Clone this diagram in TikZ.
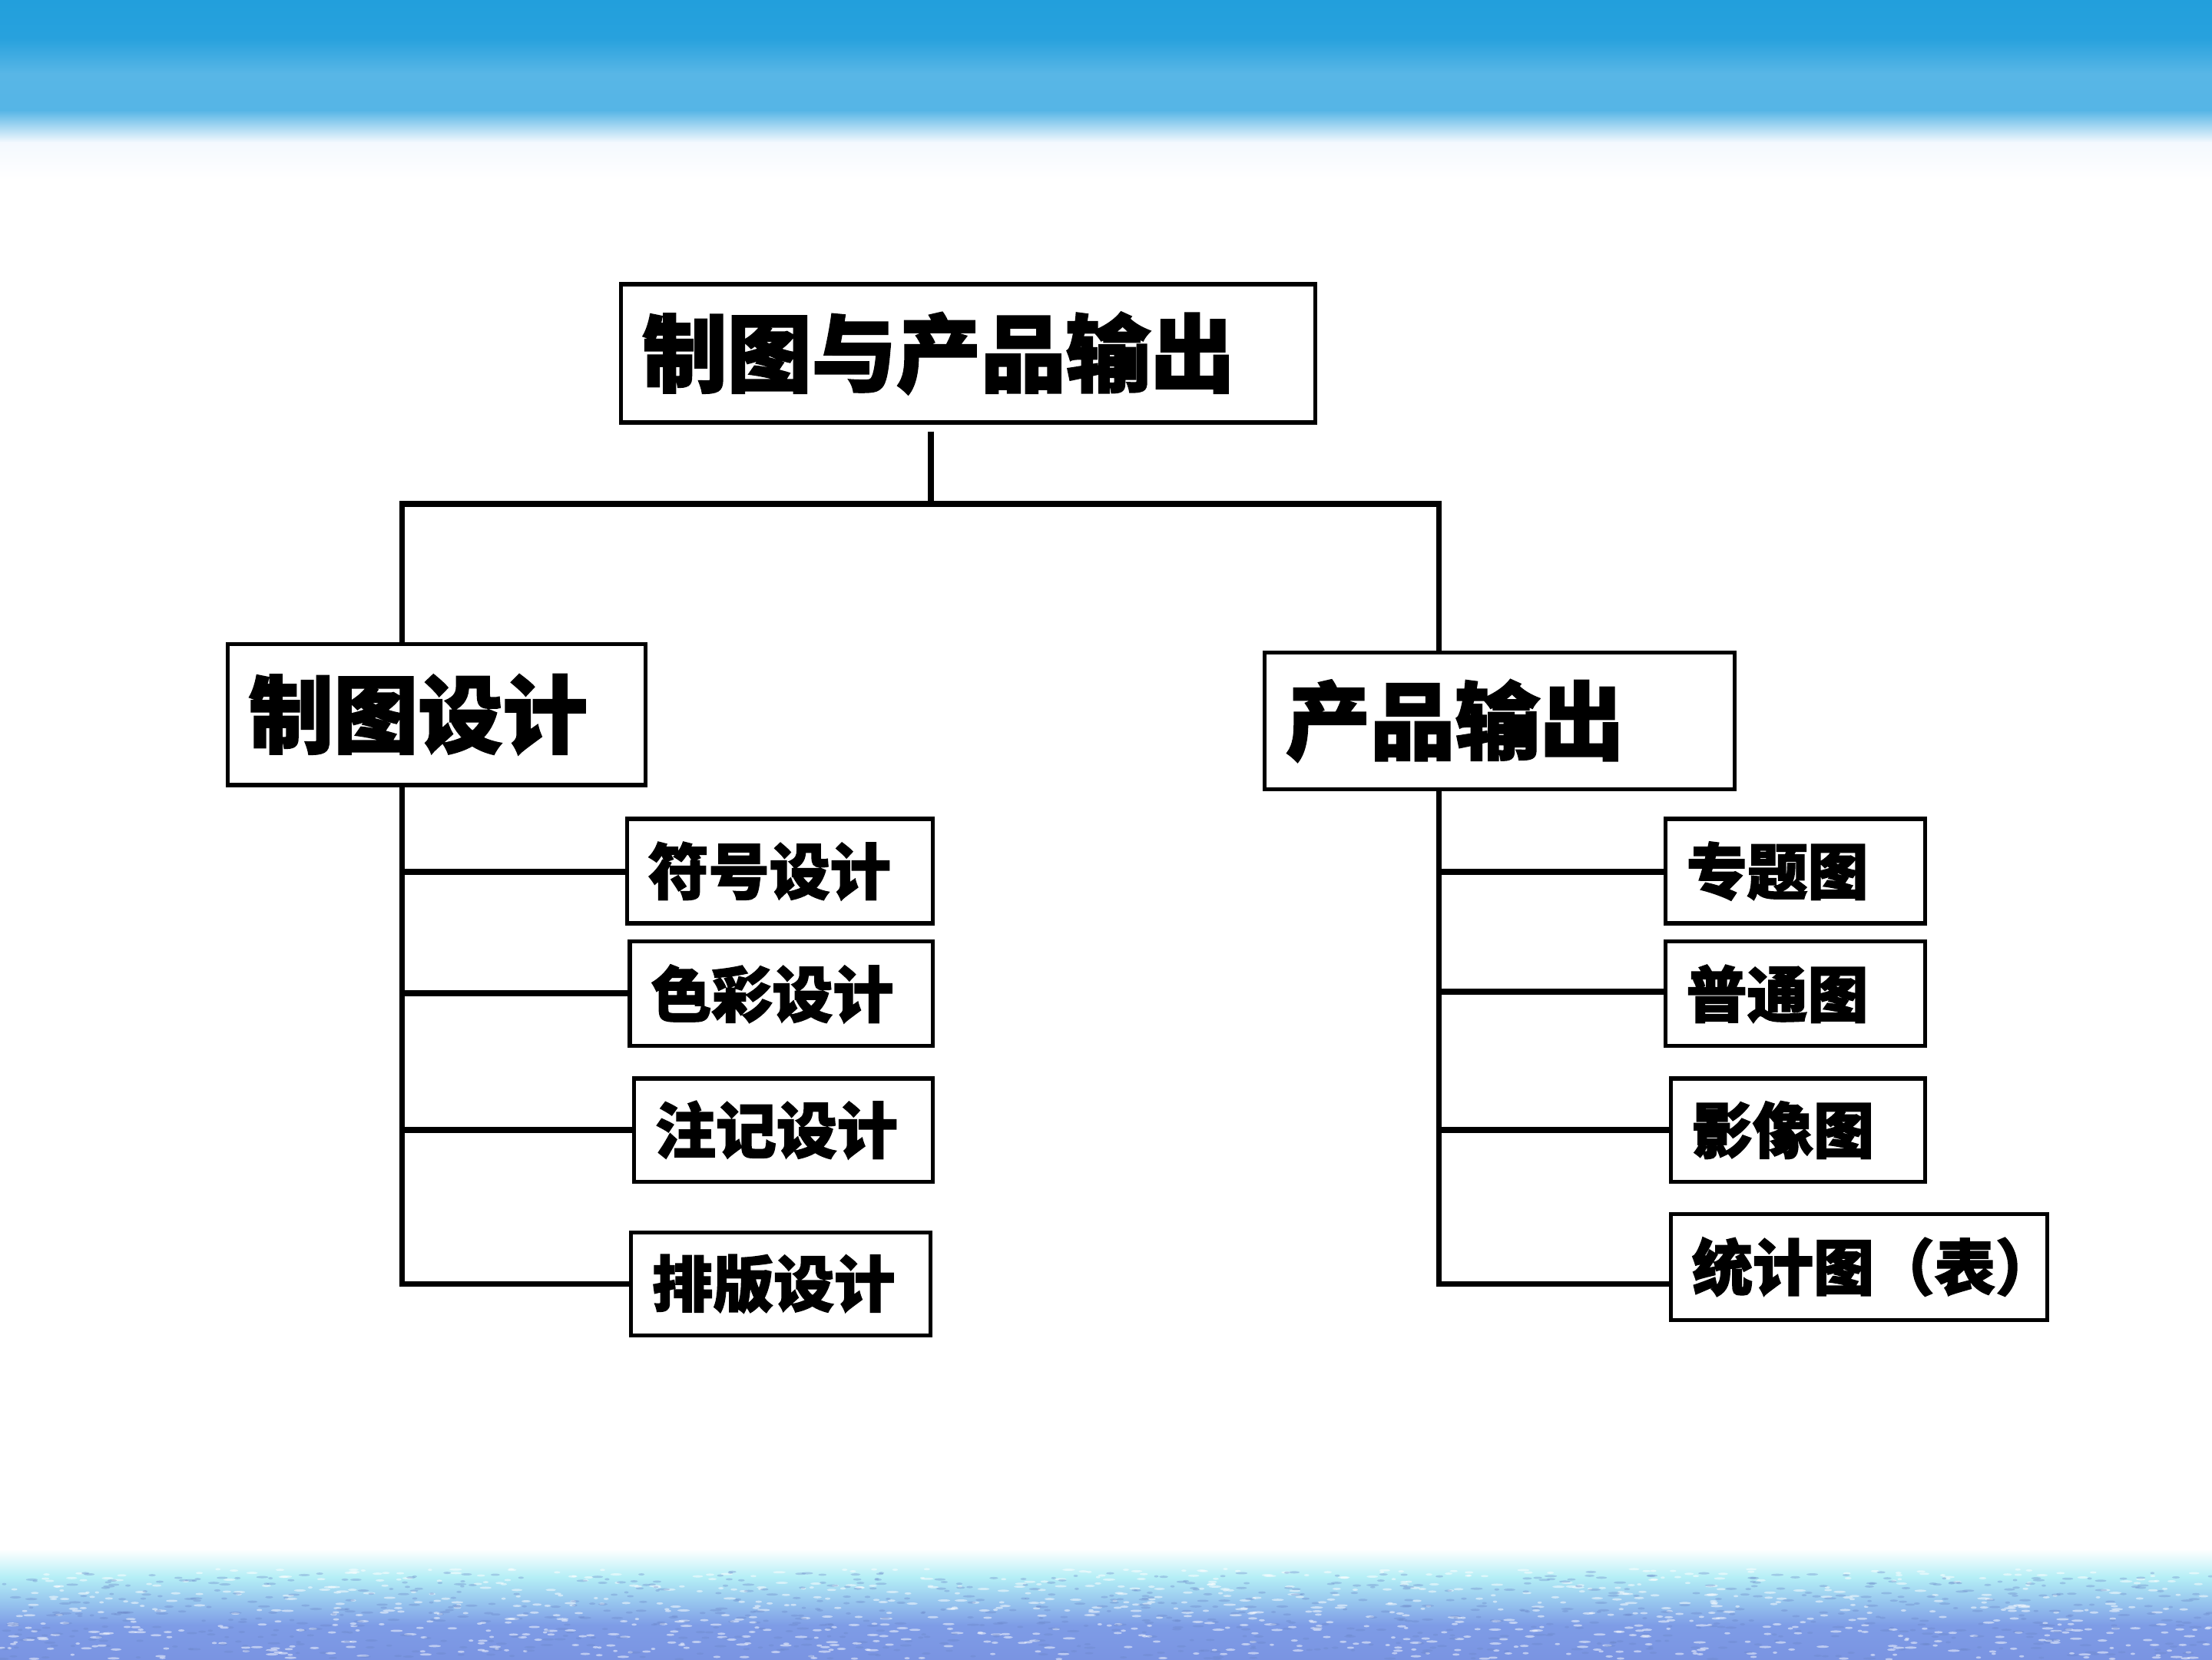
\documentclass[tikz,border=0pt]{standalone}
\usepackage{fontspec}
\newfontfamily\cjk[BoldFeatures={FakeBold=2}]{Noto Sans CJK SC}
\definecolor{bandA}{HTML}{229FDC}
\definecolor{bandB}{HTML}{58B6E6}
\definecolor{bandC}{HTML}{F4F9FE}
\definecolor{seaA}{HTML}{B4EEF6}
\definecolor{seaB}{HTML}{96C4EE}
\definecolor{seaC}{HTML}{7E9CE6}
\definecolor{seaD}{HTML}{7A94E2}
\definecolor{seaDark}{HTML}{6A86C8}
\begin{document}
\begin{tikzpicture}[x=1pt,y=-1pt,
  box/.style={draw=black, line width=2.8pt, fill=white, anchor=north west,
    inner xsep=15pt, inner ysep=0pt, align=left},
  big/.style={font=\cjk\bfseries\fontsize{60}{60}\selectfont},
  small/.style={font=\cjk\bfseries\fontsize{43}{43}\selectfont},
  conn/.style={line width=4.2pt, line join=miter}]
\useasboundingbox (0,0) rectangle (1568,1176);
\fill[white] (0,0) rectangle (1568,1176);
% top band
\shade[top color=bandA, bottom color=bandA!90!bandB] (0,0) rectangle (1568,27);
\shade[top color=bandA!90!bandB, bottom color=bandB] (0,27) rectangle (1568,52);
\shade[top color=bandB, bottom color=bandB!95!bandA] (0,52) rectangle (1568,78);
\shade[top color=bandB!95!bandA, bottom color=bandC] (0,78) rectangle (1568,101);
\shade[top color=bandC, bottom color=white] (0,101) rectangle (1568,128);
% bottom sea
\begin{scope}
\clip (0,1096) rectangle (1568,1176);
\shade[top color=white, bottom color=seaA] (0,1098) rectangle (1568,1118);
\shade[top color=seaA, bottom color=seaB] (0,1118) rectangle (1568,1136);
\shade[top color=seaB, bottom color=seaC] (0,1136) rectangle (1568,1152);
\shade[top color=seaC, bottom color=seaD] (0,1152) rectangle (1568,1176);
\pgfmathsetseed{11}
\foreach \i in {1,...,1000}{
  \pgfmathsetmacro\xx{1568*rnd}
  \pgfmathsetmacro\yy{1112+64*rnd}
  \pgfmathsetmacro\ww{1.5+3*rnd}
  \fill[white, opacity=0.5] (\xx,\yy) ellipse (\ww pt and 0.8pt);
}
\foreach \i in {1,...,900}{
  \pgfmathsetmacro\xx{1568*rnd}
  \pgfmathsetmacro\yy{1114+62*rnd}
  \pgfmathsetmacro\ww{1.5+3*rnd}
  \fill[seaDark, opacity=0.35] (\xx,\yy) ellipse (\ww pt and 0.8pt);
}
\end{scope}
% nodes
\node[box, big, text width=462pt, minimum height=98pt] (top) at (439,200) {制图与产品输出};
\node[box, big, text width=266pt, minimum height=100pt] (ld) at (160,455) {制图设计};
\node[box, big, text width=303pt, minimum height=97pt] (rd) at (895,461) {产品输出};
\node[box, small, text width=187pt, minimum height=74pt] (s1) at (443,579) {符号设计};
\node[box, small, text width=185pt, minimum height=74pt] (s2) at (445,666) {色彩设计};
\node[box, small, text width=182pt, minimum height=73pt] (s3) at (448,763) {注记设计};
\node[box, small, text width=182pt, minimum height=73pt] (s4) at (446,872) {排版设计};
\node[box, small, text width=154pt, minimum height=74pt] (r1) at (1179,579) {专题图};
\node[box, small, text width=154pt, minimum height=74pt] (r2) at (1179,666) {普通图};
\node[box, small, text width=150pt, minimum height=73pt] (r3) at (1183,763) {影像图};
\node[box, small, text width=237pt, minimum height=75pt] (r4) at (1183,859) {统计图（表）};
% junctions
\coordinate (j) at (660,357);
\coordinate (jl) at (285,357);
\coordinate (jr) at (1020,357);
\coordinate (a1) at (285,618);
\coordinate (a2) at (285,704);
\coordinate (a3) at (285,801);
\coordinate (a4) at (285,910);
\coordinate (b1) at (1020,618);
\coordinate (b2) at (1020,703);
\coordinate (b3) at (1020,801);
\coordinate (b4) at (1020,910);
% connectors
\draw[conn] ([yshift=-5pt]top.south -| j) -- (j);
\draw[conn] ([xshift=-2pt]jl) -- ([xshift=2pt]jr);
\draw[conn] (jl) -- (jl |- ld.north);
\draw[conn] (jr) -- (jr |- rd.north);
\draw[conn] (ld.south -| a1) -- (a4) -- (a4 -| s4.west);
\draw[conn] (rd.south -| b1) -- (b4) -- (b4 -| r4.west);
\foreach \c/\n in {a1/s1,a2/s2,a3/s3,b1/r1,b2/r2,b3/r3}{
  \draw[conn] ([xshift=-2pt]\c) -- (\c -| \n.west);
}
\end{tikzpicture}
\end{document}
